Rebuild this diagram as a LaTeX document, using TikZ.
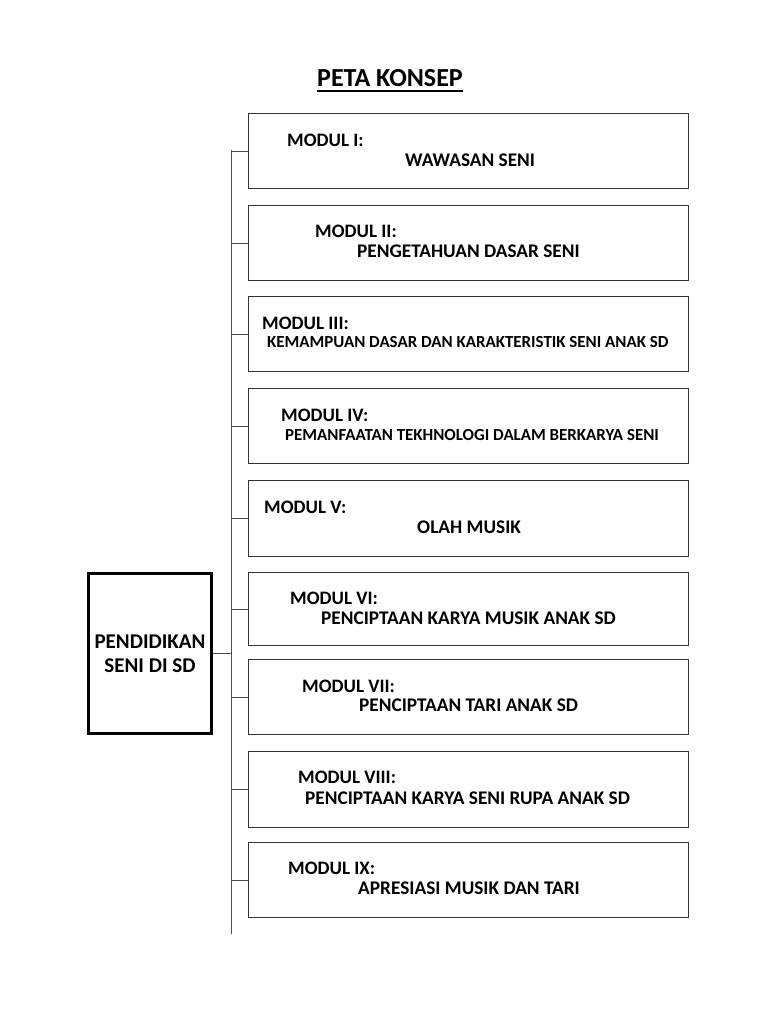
\documentclass[tikz,border=0pt]{standalone}
\usepackage{fontspec}
\setmainfont{Carlito}
\begin{document}
\begin{tikzpicture}[x=1pt,y=-1pt,
  modbox/.style={draw=black!80,line width=1.2pt,minimum width=440pt,minimum height=75pt,anchor=north west,inner sep=0pt},
  mainbox/.style={draw=black,line width=3pt,minimum width=123pt,minimum height=160pt,inner sep=0pt,align=center,font=\fontsize{21}{24}\selectfont\bfseries},
  lab/.style={anchor=west,inner sep=0pt,font=\fontsize{19}{22}\selectfont\bfseries},
  sub/.style={anchor=west,inner sep=0pt,font=\fontsize{19.3}{22}\selectfont\bfseries},
  subs/.style={anchor=west,inner sep=0pt,font=\fontsize{16.9}{19}\selectfont\bfseries},
  conn/.style={draw=black!70,line width=1pt}]
\useasboundingbox[fill=white] (0,0) rectangle (768,1024);
\node[anchor=base,inner sep=0pt,font=\fontsize{26}{30}\selectfont\bfseries] (title) at (390,87) {PETA KONSEP};
\draw[line width=1.8pt] ([yshift=-4pt]title.base west) -- ([yshift=-4pt]title.base east);

\node[modbox] (m1) at (248,113) {};
\node[modbox] (m2) at (248,205) {};
\node[modbox] (m3) at (248,296) {};
\node[modbox] (m4) at (248,388) {};
\node[modbox,minimum height=76pt] (m5) at (248,480) {};
\node[modbox,minimum height=73pt] (m6) at (248,572) {};
\node[modbox] (m7) at (248,659) {};
\node[modbox,minimum height=76pt] (m8) at (248,751) {};
\node[modbox] (m9) at (248,842) {};

\node[lab] (l1) at (287,140) {MODUL I:};
\node[sub] (s1) at (405,160) {WAWASAN SENI};
\node[lab] (l2) at (315,231) {MODUL II:};
\node[sub] (s2) at (357,251) {PENGETAHUAN DASAR SENI};
\node[lab] (l3) at (262,323) {MODUL III:};
\node[subs] (s3) at (267,342) {KEMAMPUAN DASAR DAN KARAKTERISTIK SENI ANAK SD};
\node[lab] (l4) at (281,415) {MODUL IV:};
\node[subs] (s4) at (285,435) {PEMANFAATAN TEKHNOLOGI DALAM BERKARYA SENI};
\node[lab] (l5) at (264,507) {MODUL V:};
\node[sub] (s5) at (417,527) {OLAH MUSIK};
\node[lab] (l6) at (290,598) {MODUL VI:};
\node[sub] (s6) at (321,618) {PENCIPTAAN KARYA MUSIK ANAK SD};
\node[lab] (l7) at (302,686) {MODUL VII:};
\node[sub] (s7) at (359,705) {PENCIPTAAN TARI ANAK SD};
\node[lab] (l8) at (298,777) {MODUL VIII:};
\node[sub] (s8) at (305,798) {PENCIPTAAN KARYA SENI RUPA ANAK SD};
\node[lab] (l9) at (288,868) {MODUL IX:};
\node[sub] (s9) at (358,888) {APRESIASI MUSIK DAN TARI};

\node[mainbox] (main) at (150,653.5) {PENDIDIKAN\\SENI DI SD};

\coordinate (vtop) at (231,150);
\coordinate (vbot) at (231,934);
\draw[conn] (vtop) -- (vbot);
\foreach \i in {1,...,9}{
  \draw[conn] (m\i.west -| vtop) -- (m\i.west);
}
\draw[conn] (main.east) -- (main.east -| vtop);
\end{tikzpicture}
\end{document}
